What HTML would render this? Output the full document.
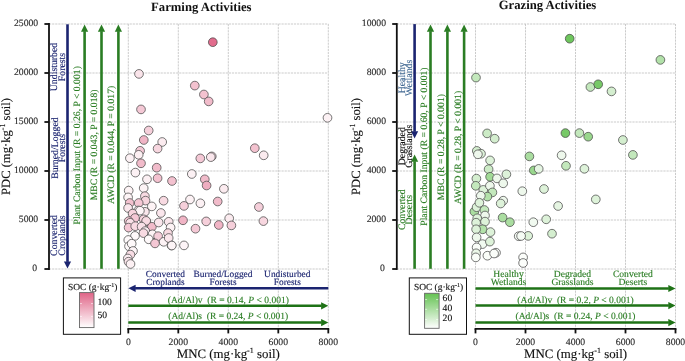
<!DOCTYPE html>
<html><head><meta charset="utf-8"><style>
html,body{margin:0;padding:0;background:#fff;}
svg{display:block;font-family:"Liberation Serif",serif;text-rendering:geometricPrecision;will-change:transform;}
circle{stroke:#4a4a4a;stroke-width:0.75;}
</style></head><body>
<svg width="685" height="361" viewBox="0 0 685 361">
<rect width="685" height="361" fill="#fff"/>
<line x1="49" y1="24.0" x2="328.3" y2="24.0" stroke="#c2c2c2" stroke-width="0.85" stroke-dasharray="2.2,0.9"/><line x1="49" y1="73.0" x2="328.3" y2="73.0" stroke="#c2c2c2" stroke-width="0.85" stroke-dasharray="2.2,0.9"/><line x1="49" y1="122.0" x2="328.3" y2="122.0" stroke="#c2c2c2" stroke-width="0.85" stroke-dasharray="2.2,0.9"/><line x1="49" y1="171.0" x2="328.3" y2="171.0" stroke="#c2c2c2" stroke-width="0.85" stroke-dasharray="2.2,0.9"/><line x1="49" y1="220.0" x2="328.3" y2="220.0" stroke="#c2c2c2" stroke-width="0.85" stroke-dasharray="2.2,0.9"/><line x1="49" y1="269.0" x2="328.3" y2="269.0" stroke="#c2c2c2" stroke-width="0.85" stroke-dasharray="2.2,0.9"/><line x1="128.3" y1="24.0" x2="128.3" y2="328.8" stroke="#c2c2c2" stroke-width="0.85" stroke-dasharray="2.2,0.9"/><line x1="178.3" y1="24.0" x2="178.3" y2="328.8" stroke="#c2c2c2" stroke-width="0.85" stroke-dasharray="2.2,0.9"/><line x1="228.3" y1="24.0" x2="228.3" y2="328.8" stroke="#c2c2c2" stroke-width="0.85" stroke-dasharray="2.2,0.9"/><line x1="278.3" y1="24.0" x2="278.3" y2="328.8" stroke="#c2c2c2" stroke-width="0.85" stroke-dasharray="2.2,0.9"/><line x1="328.3" y1="24.0" x2="328.3" y2="328.8" stroke="#c2c2c2" stroke-width="0.85" stroke-dasharray="2.2,0.9"/><line x1="49" y1="23.1" x2="49" y2="269.9" stroke="#111" stroke-width="1.8"/><line x1="44.4" y1="24.0" x2="49" y2="24.0" stroke="#111" stroke-width="1.8"/><text x="38.2" y="25.9" text-anchor="end" font-size="9.7" fill="#2a2a2a" stroke="#2a2a2a" stroke-width="0.13">25000</text><line x1="44.4" y1="73.0" x2="49" y2="73.0" stroke="#111" stroke-width="1.8"/><text x="38.2" y="74.9" text-anchor="end" font-size="9.7" fill="#2a2a2a" stroke="#2a2a2a" stroke-width="0.13">20000</text><line x1="44.4" y1="122.0" x2="49" y2="122.0" stroke="#111" stroke-width="1.8"/><text x="38.2" y="123.9" text-anchor="end" font-size="9.7" fill="#2a2a2a" stroke="#2a2a2a" stroke-width="0.13">15000</text><line x1="44.4" y1="171.0" x2="49" y2="171.0" stroke="#111" stroke-width="1.8"/><text x="38.2" y="172.9" text-anchor="end" font-size="9.7" fill="#2a2a2a" stroke="#2a2a2a" stroke-width="0.13">10000</text><line x1="44.4" y1="220.0" x2="49" y2="220.0" stroke="#111" stroke-width="1.8"/><text x="38.2" y="221.9" text-anchor="end" font-size="9.7" fill="#2a2a2a" stroke="#2a2a2a" stroke-width="0.13">5000</text><line x1="44.4" y1="269.0" x2="49" y2="269.0" stroke="#111" stroke-width="1.8"/><text x="37.0" y="270.9" text-anchor="end" font-size="9.7" fill="#2a2a2a" stroke="#2a2a2a" stroke-width="0.13">0</text><line x1="127.4" y1="328.8" x2="329.2" y2="328.8" stroke="#111" stroke-width="1.8"/><line x1="128.3" y1="328.8" x2="128.3" y2="333.4" stroke="#111" stroke-width="1.8"/><text x="128.3" y="345.2" text-anchor="middle" font-size="9.7" fill="#2a2a2a" stroke="#2a2a2a" stroke-width="0.13">0</text><line x1="178.3" y1="328.8" x2="178.3" y2="333.4" stroke="#111" stroke-width="1.8"/><text x="178.3" y="345.2" text-anchor="middle" font-size="9.7" fill="#2a2a2a" stroke="#2a2a2a" stroke-width="0.13">2000</text><line x1="228.3" y1="328.8" x2="228.3" y2="333.4" stroke="#111" stroke-width="1.8"/><text x="228.3" y="345.2" text-anchor="middle" font-size="9.7" fill="#2a2a2a" stroke="#2a2a2a" stroke-width="0.13">4000</text><line x1="278.3" y1="328.8" x2="278.3" y2="333.4" stroke="#111" stroke-width="1.8"/><text x="278.3" y="345.2" text-anchor="middle" font-size="9.7" fill="#2a2a2a" stroke="#2a2a2a" stroke-width="0.13">6000</text><line x1="328.3" y1="328.8" x2="328.3" y2="333.4" stroke="#111" stroke-width="1.8"/><text x="328.3" y="345.2" text-anchor="middle" font-size="9.7" fill="#2a2a2a" stroke="#2a2a2a" stroke-width="0.13">8000</text><text x="201.3" y="11" text-anchor="middle" font-size="12.7" font-weight="bold" fill="#111">Farming Activities</text><text x="228.3" y="357.8" text-anchor="middle" font-size="12.85" fill="#111" stroke="#111" stroke-width="0.13">MNC (mg·kg<tspan font-size="8" dy="-4.5">-1</tspan><tspan dy="4.5"> soil)</tspan></text><text transform="translate(9.6 146.5) rotate(-90)" text-anchor="middle" font-size="12.6" fill="#111" stroke="#111" stroke-width="0.13">PDC (mg·kg<tspan font-size="8" dy="-4.5">-1</tspan><tspan dy="4.5"> soil)</tspan></text><line x1="396.8" y1="24.0" x2="675.5" y2="24.0" stroke="#c2c2c2" stroke-width="0.85" stroke-dasharray="2.2,0.9"/><line x1="396.8" y1="73.0" x2="675.5" y2="73.0" stroke="#c2c2c2" stroke-width="0.85" stroke-dasharray="2.2,0.9"/><line x1="396.8" y1="122.0" x2="675.5" y2="122.0" stroke="#c2c2c2" stroke-width="0.85" stroke-dasharray="2.2,0.9"/><line x1="396.8" y1="171.0" x2="675.5" y2="171.0" stroke="#c2c2c2" stroke-width="0.85" stroke-dasharray="2.2,0.9"/><line x1="396.8" y1="220.0" x2="675.5" y2="220.0" stroke="#c2c2c2" stroke-width="0.85" stroke-dasharray="2.2,0.9"/><line x1="396.8" y1="269.0" x2="675.5" y2="269.0" stroke="#c2c2c2" stroke-width="0.85" stroke-dasharray="2.2,0.9"/><line x1="475.5" y1="24.0" x2="475.5" y2="328.8" stroke="#c2c2c2" stroke-width="0.85" stroke-dasharray="2.2,0.9"/><line x1="525.5" y1="24.0" x2="525.5" y2="328.8" stroke="#c2c2c2" stroke-width="0.85" stroke-dasharray="2.2,0.9"/><line x1="575.5" y1="24.0" x2="575.5" y2="328.8" stroke="#c2c2c2" stroke-width="0.85" stroke-dasharray="2.2,0.9"/><line x1="625.5" y1="24.0" x2="625.5" y2="328.8" stroke="#c2c2c2" stroke-width="0.85" stroke-dasharray="2.2,0.9"/><line x1="675.5" y1="24.0" x2="675.5" y2="328.8" stroke="#c2c2c2" stroke-width="0.85" stroke-dasharray="2.2,0.9"/><line x1="396.8" y1="23.1" x2="396.8" y2="269.9" stroke="#111" stroke-width="1.8"/><line x1="392.2" y1="24.0" x2="396.8" y2="24.0" stroke="#111" stroke-width="1.8"/><text x="386.0" y="25.9" text-anchor="end" font-size="9.7" fill="#2a2a2a" stroke="#2a2a2a" stroke-width="0.13">10000</text><line x1="392.2" y1="73.0" x2="396.8" y2="73.0" stroke="#111" stroke-width="1.8"/><text x="386.0" y="74.9" text-anchor="end" font-size="9.7" fill="#2a2a2a" stroke="#2a2a2a" stroke-width="0.13">8000</text><line x1="392.2" y1="122.0" x2="396.8" y2="122.0" stroke="#111" stroke-width="1.8"/><text x="386.0" y="123.9" text-anchor="end" font-size="9.7" fill="#2a2a2a" stroke="#2a2a2a" stroke-width="0.13">6000</text><line x1="392.2" y1="171.0" x2="396.8" y2="171.0" stroke="#111" stroke-width="1.8"/><text x="386.0" y="172.9" text-anchor="end" font-size="9.7" fill="#2a2a2a" stroke="#2a2a2a" stroke-width="0.13">4000</text><line x1="392.2" y1="220.0" x2="396.8" y2="220.0" stroke="#111" stroke-width="1.8"/><text x="386.0" y="221.9" text-anchor="end" font-size="9.7" fill="#2a2a2a" stroke="#2a2a2a" stroke-width="0.13">2000</text><line x1="392.2" y1="269.0" x2="396.8" y2="269.0" stroke="#111" stroke-width="1.8"/><text x="384.8" y="270.9" text-anchor="end" font-size="9.7" fill="#2a2a2a" stroke="#2a2a2a" stroke-width="0.13">0</text><line x1="474.6" y1="328.8" x2="676.4" y2="328.8" stroke="#111" stroke-width="1.8"/><line x1="475.5" y1="328.8" x2="475.5" y2="333.4" stroke="#111" stroke-width="1.8"/><text x="475.5" y="345.2" text-anchor="middle" font-size="9.7" fill="#2a2a2a" stroke="#2a2a2a" stroke-width="0.13">0</text><line x1="525.5" y1="328.8" x2="525.5" y2="333.4" stroke="#111" stroke-width="1.8"/><text x="525.5" y="345.2" text-anchor="middle" font-size="9.7" fill="#2a2a2a" stroke="#2a2a2a" stroke-width="0.13">2000</text><line x1="575.5" y1="328.8" x2="575.5" y2="333.4" stroke="#111" stroke-width="1.8"/><text x="575.5" y="345.2" text-anchor="middle" font-size="9.7" fill="#2a2a2a" stroke="#2a2a2a" stroke-width="0.13">4000</text><line x1="625.5" y1="328.8" x2="625.5" y2="333.4" stroke="#111" stroke-width="1.8"/><text x="625.5" y="345.2" text-anchor="middle" font-size="9.7" fill="#2a2a2a" stroke="#2a2a2a" stroke-width="0.13">6000</text><line x1="675.5" y1="328.8" x2="675.5" y2="333.4" stroke="#111" stroke-width="1.8"/><text x="675.5" y="345.2" text-anchor="middle" font-size="9.7" fill="#2a2a2a" stroke="#2a2a2a" stroke-width="0.13">8000</text><text x="547.5" y="9.3" text-anchor="middle" font-size="12.7" font-weight="bold" fill="#111">Grazing Activities</text><text x="575.5" y="357.8" text-anchor="middle" font-size="12.85" fill="#111" stroke="#111" stroke-width="0.13">MNC (mg·kg<tspan font-size="8" dy="-4.5">-1</tspan><tspan dy="4.5"> soil)</tspan></text><text transform="translate(359.9 146.5) rotate(-90)" text-anchor="middle" font-size="12.6" fill="#111" stroke="#111" stroke-width="0.13">PDC (mg·kg<tspan font-size="8" dy="-4.5">-1</tspan><tspan dy="4.5"> soil)</tspan></text><line x1="67.5" y1="24.3" x2="67.5" y2="261.90000000000003" stroke="#1b2470" stroke-width="2.6"/><path d="M67.5 268.6 L71.1 261.40000000000003 L63.9 261.40000000000003 Z" fill="#1b2470"/><line x1="84.6" y1="31.2" x2="84.6" y2="268.8" stroke="#2a7d23" stroke-width="2.6"/><path d="M84.6 24.5 L88.19999999999999 31.7 L81.0 31.7 Z" fill="#2a7d23"/><line x1="101.5" y1="31.2" x2="101.5" y2="268.8" stroke="#2a7d23" stroke-width="2.6"/><path d="M101.5 24.5 L105.1 31.7 L97.9 31.7 Z" fill="#2a7d23"/><line x1="118.4" y1="31.2" x2="118.4" y2="268.8" stroke="#2a7d23" stroke-width="2.6"/><path d="M118.4 24.5 L122.0 31.7 L114.80000000000001 31.7 Z" fill="#2a7d23"/><text transform="translate(57.3 67) rotate(-90)" text-anchor="middle" font-size="9.8" fill="#1b2470" stroke="#1b2470" stroke-width="0.13">Undisturbed</text><text transform="translate(64.6 67) rotate(-90)" text-anchor="middle" font-size="9.8" fill="#1b2470" stroke="#1b2470" stroke-width="0.13">Forests</text><text transform="translate(57.6 148.1) rotate(-90)" text-anchor="middle" font-size="9.8" fill="#1b2470" stroke="#1b2470" stroke-width="0.13">Burned/Logged</text><text transform="translate(64.8 148.1) rotate(-90)" text-anchor="middle" font-size="9.8" fill="#1b2470" stroke="#1b2470" stroke-width="0.13">Forests</text><text transform="translate(57.3 235.5) rotate(-90)" text-anchor="middle" font-size="9.8" fill="#1b2470" stroke="#1b2470" stroke-width="0.13">Converted</text><text transform="translate(64.6 235.5) rotate(-90)" text-anchor="middle" font-size="9.8" fill="#1b2470" stroke="#1b2470" stroke-width="0.13">Croplands</text><text transform="translate(80.2 145.3) rotate(-90)" text-anchor="middle" font-size="9.7" fill="#2a7d23" stroke="#2a7d23" stroke-width="0.13">Plant Carbon Input (R = 0.26, P &lt; 0.001)</text><text transform="translate(97 144.9) rotate(-90)" text-anchor="middle" font-size="9.7" fill="#2a7d23" stroke="#2a7d23" stroke-width="0.13">MBC (R = 0.043, P = 0.018)</text><text transform="translate(113.8 144.9) rotate(-90)" text-anchor="middle" font-size="9.7" fill="#2a7d23" stroke="#2a7d23" stroke-width="0.13">AWCD (R = 0.044, P = 0.017)</text><line x1="135.1" y1="288.3" x2="328.3" y2="288.3" stroke="#1b2470" stroke-width="2.6"/><path d="M128.4 288.3 L135.6 284.7 L135.6 291.90000000000003 Z" fill="#1b2470"/><line x1="128.3" y1="305.8" x2="321.6" y2="305.8" stroke="#1e7216" stroke-width="2.5"/><path d="M328.3 305.8 L321.1 302.2 L321.1 309.40000000000003 Z" fill="#1e7216"/><line x1="128.3" y1="322.6" x2="321.6" y2="322.6" stroke="#1e7216" stroke-width="2.5"/><path d="M328.3 322.6 L321.1 319.0 L321.1 326.20000000000005 Z" fill="#1e7216"/><text x="165.4" y="276.6" text-anchor="middle" font-size="9.4" fill="#1b2470" stroke="#1b2470" stroke-width="0.13">Converted</text><text x="165.4" y="284.6" text-anchor="middle" font-size="9.4" fill="#1b2470" stroke="#1b2470" stroke-width="0.13">Croplands</text><text x="223" y="276.6" text-anchor="middle" font-size="9.4" fill="#1b2470" stroke="#1b2470" stroke-width="0.13">Burned/Logged</text><text x="223" y="284.6" text-anchor="middle" font-size="9.4" fill="#1b2470" stroke="#1b2470" stroke-width="0.13">Forests</text><text x="287.3" y="276.6" text-anchor="middle" font-size="9.4" fill="#1b2470" stroke="#1b2470" stroke-width="0.13">Undisturbed</text><text x="287.3" y="284.6" text-anchor="middle" font-size="9.4" fill="#1b2470" stroke="#1b2470" stroke-width="0.13">Forests</text><text x="228.3" y="302.6" text-anchor="middle" font-size="9.5" fill="#2a7d23" xml:space="preserve" stroke="#2a7d23" stroke-width="0.13">(Ad/Al)v  (R = 0.14, <tspan font-style="italic">P</tspan> &lt; 0.001)</text><text x="228.3" y="319.4" text-anchor="middle" font-size="9.5" fill="#2a7d23" xml:space="preserve" stroke="#2a7d23" stroke-width="0.13">(Ad/Al)s  (R = 0.24, <tspan font-style="italic">P</tspan> &lt; 0.001)</text><rect x="63.4" y="277.9" width="57.2" height="56.4" fill="#fff" stroke="#111" stroke-width="1"/><text x="68.0" y="290" font-size="9.45" fill="#111" stroke="#111" stroke-width="0.13">SOC (g·kg<tspan font-size="6" dy="-3.2">-1</tspan><tspan dy="3.2">)</tspan></text><defs><linearGradient id="gp" x1="0" y1="1" x2="0" y2="0"><stop offset="0" stop-color="#ffffff"/><stop offset="1" stop-color="#e06487"/></linearGradient></defs><rect x="79.5" y="292.6" width="14.5" height="35" fill="url(#gp)" stroke="#666" stroke-width="0.9"/><line x1="80.0" y1="303.6" x2="82.0" y2="303.6" stroke="#fff" stroke-width="0.6"/><line x1="91.0" y1="303.6" x2="93.0" y2="303.6" stroke="#fff" stroke-width="0.6"/><text x="97.5" y="305.40000000000003" font-size="9.6" fill="#111" stroke="#111" stroke-width="0.13">100</text><line x1="80.0" y1="316.4" x2="82.0" y2="316.4" stroke="#fff" stroke-width="0.6"/><line x1="91.0" y1="316.4" x2="93.0" y2="316.4" stroke="#fff" stroke-width="0.6"/><text x="97.5" y="318.2" font-size="9.6" fill="#111" stroke="#111" stroke-width="0.13">50</text><circle cx="139" cy="73.9" r="4.35" fill="#fae4ea"/><circle cx="212.8" cy="42.2" r="4.35" fill="#e26c8d"/><circle cx="194.8" cy="85.6" r="4.35" fill="#f3c2cf"/><circle cx="203.9" cy="94.5" r="4.35" fill="#f3c2cf"/><circle cx="208.7" cy="101.4" r="4.35" fill="#f1bbca"/><circle cx="141" cy="109.4" r="4.35" fill="#f4c8d5"/><circle cx="327.5" cy="117.8" r="4.35" fill="#fcf1f4"/><circle cx="148.7" cy="130.5" r="4.35" fill="#f5cfda"/><circle cx="143.8" cy="140" r="4.35" fill="#f0b4c5"/><circle cx="162.2" cy="142" r="4.35" fill="#fbebef"/><circle cx="157.6" cy="148.6" r="4.35" fill="#f7d6df"/><circle cx="140.1" cy="150.8" r="4.35" fill="#f4c8d5"/><circle cx="138.7" cy="154.8" r="4.35" fill="#fceff2"/><circle cx="129.9" cy="158.2" r="4.35" fill="#fcf1f4"/><circle cx="141" cy="163.3" r="4.35" fill="#f1bbca"/><circle cx="156.7" cy="167.7" r="4.35" fill="#f1bbca"/><circle cx="135.4" cy="172.6" r="4.35" fill="#fcf1f4"/><circle cx="200.3" cy="158.4" r="4.35" fill="#f4c8d5"/><circle cx="211.8" cy="156.4" r="4.35" fill="#f8dde5"/><circle cx="210.8" cy="157.1" r="4.35" fill="#fae6ec"/><circle cx="254.8" cy="148.2" r="4.35" fill="#f3c2cf"/><circle cx="263.7" cy="155.3" r="4.35" fill="#fbebef"/><circle cx="191.8" cy="174" r="4.35" fill="#fcf1f4"/><circle cx="204.8" cy="179.3" r="4.35" fill="#f1bbca"/><circle cx="206.6" cy="185.5" r="4.35" fill="#efadc0"/><circle cx="223.9" cy="188.8" r="4.35" fill="#fbebef"/><circle cx="190" cy="199.5" r="4.35" fill="#fcf1f4"/><circle cx="184" cy="205.9" r="4.35" fill="#f5cfda"/><circle cx="200.4" cy="203.3" r="4.35" fill="#fcf1f4"/><circle cx="217.7" cy="201.5" r="4.35" fill="#f1bbca"/><circle cx="258.9" cy="207" r="4.35" fill="#f5cfda"/><circle cx="263.4" cy="221.1" r="4.35" fill="#f7d6df"/><circle cx="183" cy="220.3" r="4.35" fill="#f0b4c5"/><circle cx="206.2" cy="221.4" r="4.35" fill="#f5cfda"/><circle cx="218.8" cy="225" r="4.35" fill="#f0b4c5"/><circle cx="229.2" cy="218.3" r="4.35" fill="#fbebef"/><circle cx="231.4" cy="225.4" r="4.35" fill="#f5cfda"/><circle cx="195.5" cy="228.7" r="4.35" fill="#f4c8d5"/><circle cx="184" cy="245.4" r="4.35" fill="#fdf4f7"/><circle cx="171.5" cy="245.5" r="4.35" fill="#fdf3f5"/><circle cx="147" cy="179.3" r="4.35" fill="#fcf0f3"/><circle cx="157.6" cy="178.2" r="4.35" fill="#f3c1cf"/><circle cx="172" cy="181" r="4.35" fill="#f3c1cf"/><circle cx="143.7" cy="188.1" r="4.35" fill="#fdf3f5"/><circle cx="128.7" cy="190.6" r="4.35" fill="#fdf3f5"/><circle cx="128.1" cy="197.4" r="4.35" fill="#fdf3f5"/><circle cx="144.9" cy="196.2" r="4.35" fill="#f8dae2"/><circle cx="145.5" cy="200.6" r="4.35" fill="#f6d4dd"/><circle cx="129.7" cy="203" r="4.35" fill="#f3c1cf"/><circle cx="138.7" cy="203" r="4.35" fill="#f4c7d4"/><circle cx="128.1" cy="208" r="4.35" fill="#fae6ec"/><circle cx="163.6" cy="200.7" r="4.35" fill="#f8dae2"/><circle cx="151.8" cy="206.4" r="4.35" fill="#fdf3f5"/><circle cx="138.1" cy="210.5" r="4.35" fill="#fcf0f3"/><circle cx="144.9" cy="211.8" r="4.35" fill="#fae6ec"/><circle cx="160.9" cy="213" r="4.35" fill="#fae6ec"/><circle cx="139.9" cy="210.7" r="4.35" fill="#fdf5f7"/><circle cx="132.6" cy="213.6" r="4.35" fill="#f6d4dd"/><circle cx="135" cy="218" r="4.35" fill="#f4c7d4"/><circle cx="143.7" cy="219.3" r="4.35" fill="#f6d4dd"/><circle cx="128.7" cy="221.1" r="4.35" fill="#f4c7d4"/><circle cx="146.3" cy="221.6" r="4.35" fill="#f5cdd9"/><circle cx="130.2" cy="222.8" r="4.35" fill="#f9e0e7"/><circle cx="146.2" cy="220.9" r="4.35" fill="#f8dae2"/><circle cx="151.9" cy="226.8" r="4.35" fill="#f1bbca"/><circle cx="158.7" cy="222.5" r="4.35" fill="#fae6ec"/><circle cx="168.7" cy="221.8" r="4.35" fill="#fae6ec"/><circle cx="170.6" cy="227.5" r="4.35" fill="#fdf3f5"/><circle cx="128.6" cy="227.6" r="4.35" fill="#f4c7d4"/><circle cx="135.2" cy="226.2" r="4.35" fill="#f8dae2"/><circle cx="141.6" cy="226.6" r="4.35" fill="#f9e0e7"/><circle cx="135" cy="235.9" r="4.35" fill="#fef9fa"/><circle cx="145.2" cy="231.1" r="4.35" fill="#fbecf1"/><circle cx="143.5" cy="233.1" r="4.35" fill="#f8dae2"/><circle cx="152.5" cy="234.3" r="4.35" fill="#fdf3f5"/><circle cx="158.1" cy="236.2" r="4.35" fill="#f5cdd9"/><circle cx="168" cy="233.1" r="4.35" fill="#f8dae2"/><circle cx="148.7" cy="239.3" r="4.35" fill="#fef9fa"/><circle cx="155" cy="243.4" r="4.35" fill="#f4c7d4"/><circle cx="163.7" cy="241.8" r="4.35" fill="#fdf3f5"/><circle cx="168.7" cy="238" r="4.35" fill="#fae6ec"/><circle cx="171.8" cy="245.5" r="4.35" fill="#fdf5f7"/><circle cx="128.3" cy="240" r="4.35" fill="#fef9fa"/><circle cx="129" cy="246.3" r="4.35" fill="#fef9fa"/><circle cx="131.7" cy="243.7" r="4.35" fill="#fef9fa"/><circle cx="133" cy="251" r="4.35" fill="#fdf5f7"/><circle cx="130.4" cy="254.6" r="4.35" fill="#f8dce4"/><circle cx="127.8" cy="258.5" r="4.35" fill="#fbecf1"/><circle cx="128.5" cy="261.7" r="4.35" fill="#fae4ea"/><circle cx="130.5" cy="264" r="4.35" fill="#fcf0f3"/><line x1="414.6" y1="24.1" x2="414.6" y2="131.70000000000002" stroke="#1b2470" stroke-width="2.6"/><path d="M414.6 138.4 L418.20000000000005 131.20000000000002 L411.0 131.20000000000002 Z" fill="#1b2470"/><line x1="414.6" y1="161.29999999999998" x2="414.6" y2="268.8" stroke="#2a7d23" stroke-width="2.6"/><path d="M414.6 154.6 L418.20000000000005 161.79999999999998 L411.0 161.79999999999998 Z" fill="#2a7d23"/><line x1="430.5" y1="31.2" x2="430.5" y2="268.8" stroke="#2a7d23" stroke-width="2.6"/><path d="M430.5 24.5 L434.1 31.7 L426.9 31.7 Z" fill="#2a7d23"/><line x1="447.4" y1="31.2" x2="447.4" y2="268.8" stroke="#2a7d23" stroke-width="2.6"/><path d="M447.4 24.5 L451.0 31.7 L443.79999999999995 31.7 Z" fill="#2a7d23"/><line x1="464.1" y1="31.2" x2="464.1" y2="268.8" stroke="#2a7d23" stroke-width="2.6"/><path d="M464.1 24.5 L467.70000000000005 31.7 L460.5 31.7 Z" fill="#2a7d23"/><text transform="translate(404.6 77.8) rotate(-90)" text-anchor="middle" font-size="9.8" fill="#436a94" stroke="#436a94" stroke-width="0.13">Healthy</text><text transform="translate(411.9 77.8) rotate(-90)" text-anchor="middle" font-size="9.8" fill="#436a94" stroke="#436a94" stroke-width="0.13">Wetlands</text><text transform="translate(404.6 146.2) rotate(-90)" text-anchor="middle" font-size="9.8" fill="#111" stroke="#111" stroke-width="0.13">Degraded</text><text transform="translate(411.9 146.2) rotate(-90)" text-anchor="middle" font-size="9.8" fill="#111" stroke="#111" stroke-width="0.13">Grasslands</text><text transform="translate(404.6 209.7) rotate(-90)" text-anchor="middle" font-size="9.8" fill="#2a7d23" stroke="#2a7d23" stroke-width="0.13">Converted</text><text transform="translate(411.9 209.7) rotate(-90)" text-anchor="middle" font-size="9.8" fill="#2a7d23" stroke="#2a7d23" stroke-width="0.13">Deserts</text><text transform="translate(427 146.6) rotate(-90)" text-anchor="middle" font-size="9.7" fill="#2a7d23" stroke="#2a7d23" stroke-width="0.13">Plant Carbon Input (R = 0.60, P &lt; 0.001)</text><text transform="translate(443.8 147.1) rotate(-90)" text-anchor="middle" font-size="9.7" fill="#2a7d23" stroke="#2a7d23" stroke-width="0.13">MBC (R = 0.28, P &lt; 0.001)</text><text transform="translate(460.6 147.5) rotate(-90)" text-anchor="middle" font-size="9.7" fill="#2a7d23" stroke="#2a7d23" stroke-width="0.13">AWCD (R = 0.28, P &lt; 0.001)</text><line x1="475.5" y1="288.5" x2="668.8" y2="288.5" stroke="#1e7216" stroke-width="2.5"/><path d="M675.5 288.5 L668.3 284.9 L668.3 292.1 Z" fill="#1e7216"/><line x1="475.5" y1="305.6" x2="668.8" y2="305.6" stroke="#1e7216" stroke-width="2.5"/><path d="M675.5 305.6 L668.3 302.0 L668.3 309.20000000000005 Z" fill="#1e7216"/><line x1="475.5" y1="322.6" x2="668.8" y2="322.6" stroke="#1e7216" stroke-width="2.5"/><path d="M675.5 322.6 L668.3 319.0 L668.3 326.20000000000005 Z" fill="#1e7216"/><text x="508.5" y="276.6" text-anchor="middle" font-size="9.6" fill="#2a7d23" stroke="#2a7d23" stroke-width="0.13">Healthy</text><text x="508.5" y="284.6" text-anchor="middle" font-size="9.6" fill="#2a7d23" stroke="#2a7d23" stroke-width="0.13">Wetlands</text><text x="572.5" y="276.6" text-anchor="middle" font-size="9.6" fill="#2a7d23" stroke="#2a7d23" stroke-width="0.13">Degraded</text><text x="572.5" y="284.6" text-anchor="middle" font-size="9.6" fill="#2a7d23" stroke="#2a7d23" stroke-width="0.13">Grasslands</text><text x="632.9" y="276.6" text-anchor="middle" font-size="9.6" fill="#2a7d23" stroke="#2a7d23" stroke-width="0.13">Converted</text><text x="632.9" y="284.6" text-anchor="middle" font-size="9.6" fill="#2a7d23" stroke="#2a7d23" stroke-width="0.13">Deserts</text><text x="575.5" y="302.6" text-anchor="middle" font-size="9.5" fill="#2a7d23" xml:space="preserve" stroke="#2a7d23" stroke-width="0.13">(Ad/Al)v  (R = 0.2, <tspan font-style="italic">P</tspan> &lt; 0.001)</text><text x="575.5" y="319.4" text-anchor="middle" font-size="9.5" fill="#2a7d23" xml:space="preserve" stroke="#2a7d23" stroke-width="0.13">(Ad/Al)s  (R = 0.24, <tspan font-style="italic">P</tspan> &lt; 0.001)</text><rect x="409.3" y="277.9" width="57.2" height="56.4" fill="#fff" stroke="#111" stroke-width="1"/><text x="413.90000000000003" y="290" font-size="9.45" fill="#111" stroke="#111" stroke-width="0.13">SOC (g·kg<tspan font-size="6" dy="-3.2">-1</tspan><tspan dy="3.2">)</tspan></text><defs><linearGradient id="gg" x1="0" y1="1" x2="0" y2="0"><stop offset="0" stop-color="#ffffff"/><stop offset="1" stop-color="#64c252"/></linearGradient></defs><rect x="424.6" y="293.3" width="14.5" height="35" fill="url(#gg)" stroke="#666" stroke-width="0.9"/><line x1="425.1" y1="299.6" x2="427.1" y2="299.6" stroke="#fff" stroke-width="0.6"/><line x1="436.1" y1="299.6" x2="438.1" y2="299.6" stroke="#fff" stroke-width="0.6"/><text x="442.6" y="301.40000000000003" font-size="9.6" fill="#111" stroke="#111" stroke-width="0.13">60</text><line x1="425.1" y1="309.3" x2="427.1" y2="309.3" stroke="#fff" stroke-width="0.6"/><line x1="436.1" y1="309.3" x2="438.1" y2="309.3" stroke="#fff" stroke-width="0.6"/><text x="442.6" y="311.1" font-size="9.6" fill="#111" stroke="#111" stroke-width="0.13">40</text><line x1="425.1" y1="319.5" x2="427.1" y2="319.5" stroke="#fff" stroke-width="0.6"/><line x1="436.1" y1="319.5" x2="438.1" y2="319.5" stroke="#fff" stroke-width="0.6"/><text x="442.6" y="321.3" font-size="9.6" fill="#111" stroke="#111" stroke-width="0.13">20</text><circle cx="476" cy="77.6" r="4.35" fill="#c3e8bc"/><circle cx="569.7" cy="38.7" r="4.35" fill="#6ec65d"/><circle cx="590.4" cy="87" r="4.35" fill="#c3e8bc"/><circle cx="598.2" cy="84.3" r="4.35" fill="#77c967"/><circle cx="611.5" cy="91.4" r="4.35" fill="#d4eecf"/><circle cx="660.4" cy="59.9" r="4.35" fill="#b2e1a9"/><circle cx="487.1" cy="133.4" r="4.35" fill="#ccebc6"/><circle cx="494.7" cy="138.7" r="4.35" fill="#d4eecf"/><circle cx="476.8" cy="150.9" r="4.35" fill="#d4eecf"/><circle cx="481" cy="153.7" r="4.35" fill="#ddf2d9"/><circle cx="477.9" cy="154.3" r="4.35" fill="#eef8ec"/><circle cx="490.1" cy="160.4" r="4.35" fill="#ddf2d9"/><circle cx="488.6" cy="169.2" r="4.35" fill="#ccebc6"/><circle cx="529.4" cy="156.4" r="4.35" fill="#aadda0"/><circle cx="533.8" cy="170.4" r="4.35" fill="#99d78d"/><circle cx="538.7" cy="168.9" r="4.35" fill="#e5f5e2"/><circle cx="565.4" cy="133.1" r="4.35" fill="#77c967"/><circle cx="579.4" cy="133.1" r="4.35" fill="#c3e8bc"/><circle cx="588.2" cy="136.7" r="4.35" fill="#99d78d"/><circle cx="622.9" cy="140" r="4.35" fill="#d4eecf"/><circle cx="561.6" cy="155.3" r="4.35" fill="#eef8ec"/><circle cx="566" cy="165.8" r="4.35" fill="#c3e8bc"/><circle cx="584.4" cy="168.8" r="4.35" fill="#ddf2d9"/><circle cx="632.9" cy="154.9" r="4.35" fill="#c3e8bc"/><circle cx="490.1" cy="176.8" r="4.35" fill="#a1da96"/><circle cx="497" cy="178.4" r="4.35" fill="#eef8ec"/><circle cx="506.4" cy="174.3" r="4.35" fill="#ddf2d9"/><circle cx="503.2" cy="183.3" r="4.35" fill="#eef8ec"/><circle cx="476.4" cy="178.6" r="4.35" fill="#d4eecf"/><circle cx="475.8" cy="185.8" r="4.35" fill="#c3e8bc"/><circle cx="483.3" cy="189.9" r="4.35" fill="#ddf2d9"/><circle cx="489.9" cy="185.8" r="4.35" fill="#eef8ec"/><circle cx="492.4" cy="192.4" r="4.35" fill="#c3e8bc"/><circle cx="487.4" cy="196.6" r="4.35" fill="#b2e1a9"/><circle cx="480.8" cy="195.7" r="4.35" fill="#eef8ec"/><circle cx="522.3" cy="191.2" r="4.35" fill="#eef8ec"/><circle cx="503.2" cy="200.7" r="4.35" fill="#eef8ec"/><circle cx="500.7" cy="203.5" r="4.35" fill="#ddf2d9"/><circle cx="474.4" cy="211.6" r="4.35" fill="#aadda0"/><circle cx="476.6" cy="207.2" r="4.35" fill="#ddf2d9"/><circle cx="479.4" cy="202.8" r="4.35" fill="#ddf2d9"/><circle cx="484.4" cy="210" r="4.35" fill="#c3e8bc"/><circle cx="485" cy="215.5" r="4.35" fill="#eef8ec"/><circle cx="477.2" cy="218.3" r="4.35" fill="#ddf2d9"/><circle cx="476.1" cy="222.7" r="4.35" fill="#ddf2d9"/><circle cx="485" cy="221.6" r="4.35" fill="#ddf2d9"/><circle cx="482.7" cy="229.3" r="4.35" fill="#b2e1a9"/><circle cx="476.1" cy="229.3" r="4.35" fill="#ddf2d9"/><circle cx="490.5" cy="232.1" r="4.35" fill="#ddf2d9"/><circle cx="502.6" cy="217.6" r="4.35" fill="#aadda0"/><circle cx="509.9" cy="222.2" r="4.35" fill="#aadda0"/><circle cx="476.6" cy="237.4" r="4.35" fill="#eef8ec"/><circle cx="482.5" cy="244.1" r="4.35" fill="#f1faf0"/><circle cx="489.9" cy="241.6" r="4.35" fill="#ddf2d9"/><circle cx="476.6" cy="247.4" r="4.35" fill="#fafdf9"/><circle cx="476.1" cy="253.3" r="4.35" fill="#ebf7e8"/><circle cx="475.8" cy="257.4" r="4.35" fill="#fafdf9"/><circle cx="487.4" cy="255.7" r="4.35" fill="#fafdf9"/><circle cx="496" cy="252.7" r="4.35" fill="#fafdf9"/><circle cx="494.1" cy="253.5" r="4.35" fill="#fafdf9"/><circle cx="518.7" cy="236.2" r="4.35" fill="#f6fcf5"/><circle cx="528.2" cy="235.9" r="4.35" fill="#ddf2d9"/><circle cx="552" cy="233.7" r="4.35" fill="#d4eecf"/><circle cx="523.1" cy="257.4" r="4.35" fill="#fcfefb"/><circle cx="523.1" cy="263" r="4.35" fill="#fcfefb"/><circle cx="544" cy="189" r="4.35" fill="#ddf2d9"/><circle cx="595.8" cy="199.4" r="4.35" fill="#ddf2d9"/><circle cx="558.1" cy="206" r="4.35" fill="#e5f5e2"/><circle cx="533.3" cy="222.2" r="4.35" fill="#f1faf0"/><circle cx="546.2" cy="219.3" r="4.35" fill="#ddf2d9"/><circle cx="521.1" cy="236" r="4.35" fill="#f6fcf5"/>
</svg></body></html>
